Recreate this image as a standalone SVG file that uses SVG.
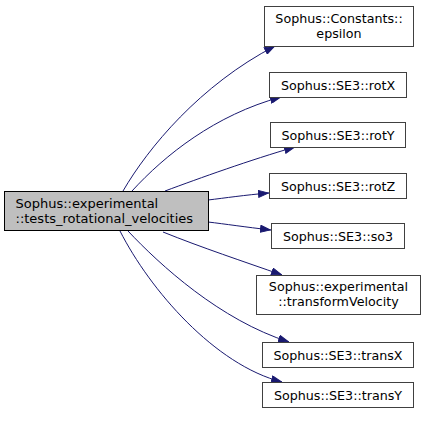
<svg xmlns="http://www.w3.org/2000/svg" width="425" height="423" viewBox="0 0 425 423">
<style>
.n rect{fill:#ffffff;stroke:#404040;stroke-width:1}
.m rect{fill:#bfbfbf;stroke:#000000;stroke-width:1}
text{font-family:"DejaVu Sans",sans-serif;font-size:12.7px;fill:#000000}
.m text{font-size:13px}
.c{text-anchor:middle}
.e path{fill:none;stroke:#191970;stroke-width:1}
</style>
<defs>
<marker id="ah" viewBox="0 0 11 8" refX="11" refY="4" markerWidth="11" markerHeight="8" markerUnits="userSpaceOnUse" orient="auto">
<path d="M0.5,0.5 L10.5,4 L0.5,7.5 z" fill="#191970" stroke="#191970"/>
</marker>
</defs>
<rect width="425" height="423" fill="#ffffff"/>
<g id="connectors" class="e">
<path d="M123,191 C148,148 200,85 275,46" marker-end="url(#ah)"/>
<path d="M132,191 C165,155 215,115 281,97" marker-end="url(#ah)"/>
<path d="M165,191 C200,178 250,160 295,147" marker-end="url(#ah)"/>
<path d="M208,200 C225,198 245,195 269,193" marker-end="url(#ah)"/>
<path d="M208,222 C225,224 245,227 271,230" marker-end="url(#ah)"/>
<path d="M163,232 C200,247 245,262 282,275" marker-end="url(#ah)"/>
<path d="M128,231 C160,265 220,320 289,342" marker-end="url(#ah)"/>
<path d="M120,231 C150,290 215,365 282,382" marker-end="url(#ah)"/>
</g>
<g id="main" class="m">
<rect x="4.5" y="191.5" width="204" height="39"/>
<text x="15.5" y="207.5">Sophus::experimental</text>
<text x="15.5" y="222.5">::tests_rotational_velocities</text>
</g>
<g id="epsilon" class="n">
<rect x="264.5" y="6.5" width="149" height="40"/>
<text class="c" x="339" y="22.5">Sophus::Constants::</text>
<text class="c" x="339" y="37.5">epsilon</text>
</g>
<g id="rotX" class="n">
<rect x="269.5" y="72.5" width="137" height="25"/>
<text class="c" x="338" y="89.5">Sophus::SE3::rotX</text>
</g>
<g id="rotY" class="n">
<rect x="270.5" y="122.5" width="135" height="25"/>
<text class="c" x="338" y="139.5">Sophus::SE3::rotY</text>
</g>
<g id="rotZ" class="n">
<rect x="269.5" y="173.5" width="137" height="25"/>
<text class="c" x="338" y="190.5">Sophus::SE3::rotZ</text>
</g>
<g id="so3" class="n">
<rect x="271.5" y="223.5" width="133" height="25"/>
<text class="c" x="338" y="240.5">Sophus::SE3::so3</text>
</g>
<g id="transformVelocity" class="n">
<rect x="256.5" y="275.5" width="164" height="39"/>
<text class="c" x="338.5" y="291">Sophus::experimental</text>
<text class="c" x="338.5" y="306">::transformVelocity</text>
</g>
<g id="transX" class="n">
<rect x="262.5" y="342.5" width="151" height="25"/>
<text class="c" x="338" y="359.5">Sophus::SE3::transX</text>
</g>
<g id="transY" class="n">
<rect x="262.5" y="382.5" width="151" height="25"/>
<text class="c" x="338" y="399.5">Sophus::SE3::transY</text>
</g>
</svg>
